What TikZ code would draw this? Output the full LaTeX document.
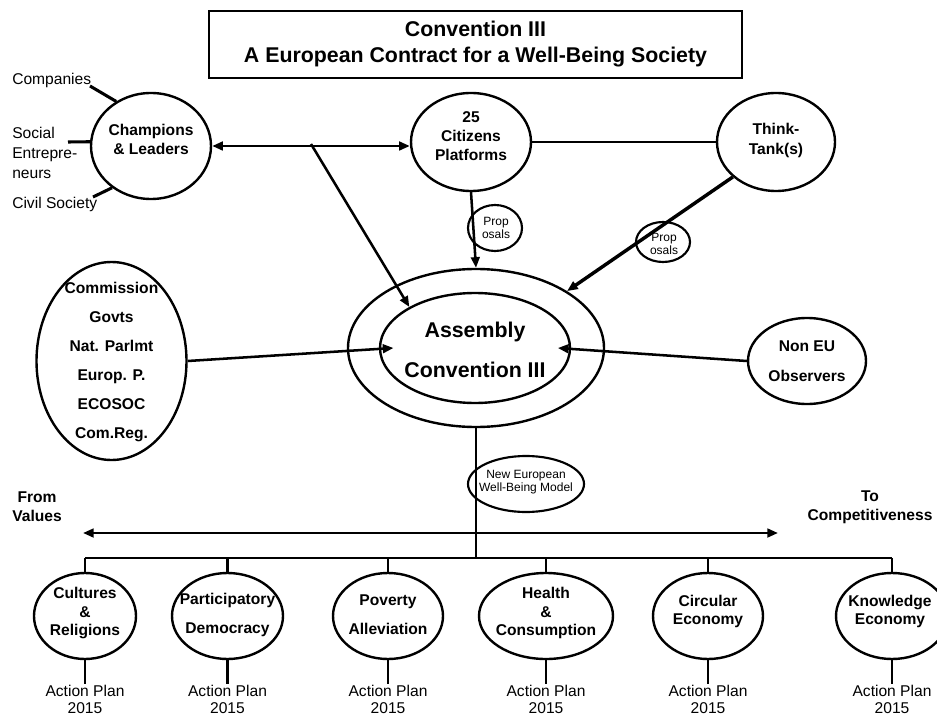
\documentclass[tikz,border=0pt]{standalone}
\usepackage{fontspec}
\setmainfont{Liberation Sans}
\usetikzlibrary{shapes.geometric,arrows.meta,calc}
\begin{document}
\begin{tikzpicture}[x=0.75pt,y=-0.75pt,
  ell/.style 2 args={draw, ellipse, line width=1.8pt, minimum width=#1*1.5pt, minimum height=#2*1.5pt, inner sep=0pt},
  bt/.style={font=\bfseries\fontsize{11.7}{14}\selectfont, align=center, inner sep=0pt},
  rt/.style={font=\fontsize{11.7}{12.75}\selectfont, align=center, inner sep=0pt},
  st/.style={font=\fontsize{9}{9.7}\selectfont, align=center, inner sep=0pt},
  ln/.style={line width=1.9pt},
  tip/.style={-{Triangle[length=8pt,width=6.5pt]}},
  arr/.style={line width=1.9pt, tip},
]
\useasboundingbox (0,0) rectangle (937,716);

% title
\node[draw, line width=1.8pt, minimum width=533*0.75pt, minimum height=67*0.75pt, inner sep=0pt,
      font=\bfseries\fontsize{16}{19.5}\selectfont, align=center] (title) at (475.5,44.5)
      {Convention III\\A European Contract for a Well-Being Society};

% top row
\node[ell={60}{53}] (champ) at (151,146) {};
\node[bt] (champt) at (151,139.5) {Champions\\\& Leaders};
\node[ell={60}{49}] (cit) at (471,142) {};
\node[bt] (citt) at (471,136) {25\\Citizens\\Platforms};
\node[ell={59}{49}] (think) at (776,142) {};
\node[bt, font=\bfseries\fontsize{11.7}{15}\selectfont] (thinkt) at (776,140) {Think-\\Tank(s)};

% left labels
\node[rt, anchor=west] (comp) at (12,80) {Companies};
\node[rt, anchor=west, align=left, font=\fontsize{11.7}{15}\selectfont] (soc) at (12,153) {Social\\Entrepre-\\neurs};
\node[rt, anchor=west] (civ) at (12,204) {Civil Society};
\coordinate (cA) at (90,86);
\coordinate (cB) at (68,142);
\coordinate (cC) at (93,197);
\draw[line width=2.3pt] (cA) -- (champ.128);
\draw[line width=2.3pt] (cB) -- (champ.176);
\draw[line width=2.3pt] (cC) -- (champ.227);

% assembly
\node[ell={128}{79}] (outer) at (476,348) {};
\node[ell={95}{55}] (inner) at (475,348) {};
\node[bt, font=\bfseries\fontsize{16}{30}\selectfont] (asmt) at (475,350) {Assembly\\Convention III};

% side ellipses
\node[ell={75}{99}] (gov) at (111.5,361) {};
\node[bt, font=\bfseries\fontsize{11.7}{21.75}\selectfont] (govt) at (111.5,361.5)
  {Commission\\Govts\\Nat. Parlmt\\Europ. P.\\ECOSOC\\Com.Reg.};
\node[ell={59}{43}] (noneu) at (807,361) {};
\node[bt, font=\bfseries\fontsize{11.7}{22.5}\selectfont] (noneut) at (807,361) {Non EU\\Observers};

% proposals
\node[ell={27}{23}, line width=1.6pt] (prop1) at (495,228) {};
\node[st] (prop1t) at (496,228) {Prop\\osals};
\node[ell={27}{20}, line width=1.6pt] (prop2) at (663,242) {};
\node[st] (prop2t) at (664,244) {Prop\\osals};

% top connectors
\draw[ln, {Triangle[length=8pt,width=6.5pt]}-{Triangle[length=8pt,width=6.5pt]}] (champ.east) -- (champ.east -| cit.west);
\draw[line width=1.4pt] (cit.east) -- (cit.east -| think.west);
\coordinate (mid) at ($(champ.east)!0.5!(cit.west)$);
\draw[arr] (mid) -- (inner.148);
\draw[arr] (cit.south) -- (outer.north);
\draw[arr, line width=2.6pt] (think.219) -- (outer.32);
\draw[arr] (gov.east) -- ([xshift=11pt]inner.west);
\draw[arr] (noneu.west) -- ([xshift=-10pt]inner.east);

% model
\node[ell={58}{28}, line width=1.6pt] (nem) at (526,484) {};
\node[st] (nemt) at (526,482) {New European\\Well-Being Model};

% axis
\node[bt] (from) at (37,507) {From\\Values};
\node[bt] (to) at (870,507) {To\\Competitiveness};
\coordinate (hl) at (83,533);
\coordinate (hr) at (778,533);
\draw[ln, {Triangle[length=8pt,width=6.5pt]}-{Triangle[length=8pt,width=6.5pt]}] (hl) -- (hr);

% bottom ellipses
\node[ell={51}{43}] (cul) at (85,616) {};
\node[bt] (cult) at (85,613) {Cultures\\\&\\Religions};
\node[ell={55.5}{43}] (par) at (227.5,616) {};
\node[bt, font=\bfseries\fontsize{11.7}{21.75}\selectfont] (part) at (227.5,614.5) {Participatory\\Democracy};
\node[ell={55}{43}] (pov) at (388,616) {};
\node[bt, font=\bfseries\fontsize{11.7}{21.75}\selectfont] (povt) at (388,614.5) {Poverty\\Alleviation};
\node[ell={67}{43}] (hea) at (546,616) {};
\node[bt] (heat) at (546,613) {Health\\\&\\Consumption};
\node[ell={55}{43}] (cir) at (708,616) {};
\node[bt] (cirt) at (708,611.5) {Circular\\Economy};
\node[ell={56}{43}] (kno) at (892,616) {};
\node[bt] (knot) at (890,611.5) {Knowledge\\Economy};

% bus
\coordinate (busy) at (0,558);
\draw[ln] (outer.south) -- (outer.south |- busy);
\draw[ln] (cul.north |- busy) -- (kno.north |- busy);
\foreach \n in {cul,par,pov,hea,cir,kno}{
  \draw[ln] (\n.north) -- (\n.north |- busy);
}

% action plans
\foreach \n/\x in {cul/85,par/227.5,pov/388,hea/546,cir/708,kno/892}{
  \node[rt, inner sep=1pt] (ap\n) at (\x,699.5) {Action Plan\\2015};
  \draw[ln] (\n.south) -- (ap\n.north);
}
\end{tikzpicture}
\end{document}
